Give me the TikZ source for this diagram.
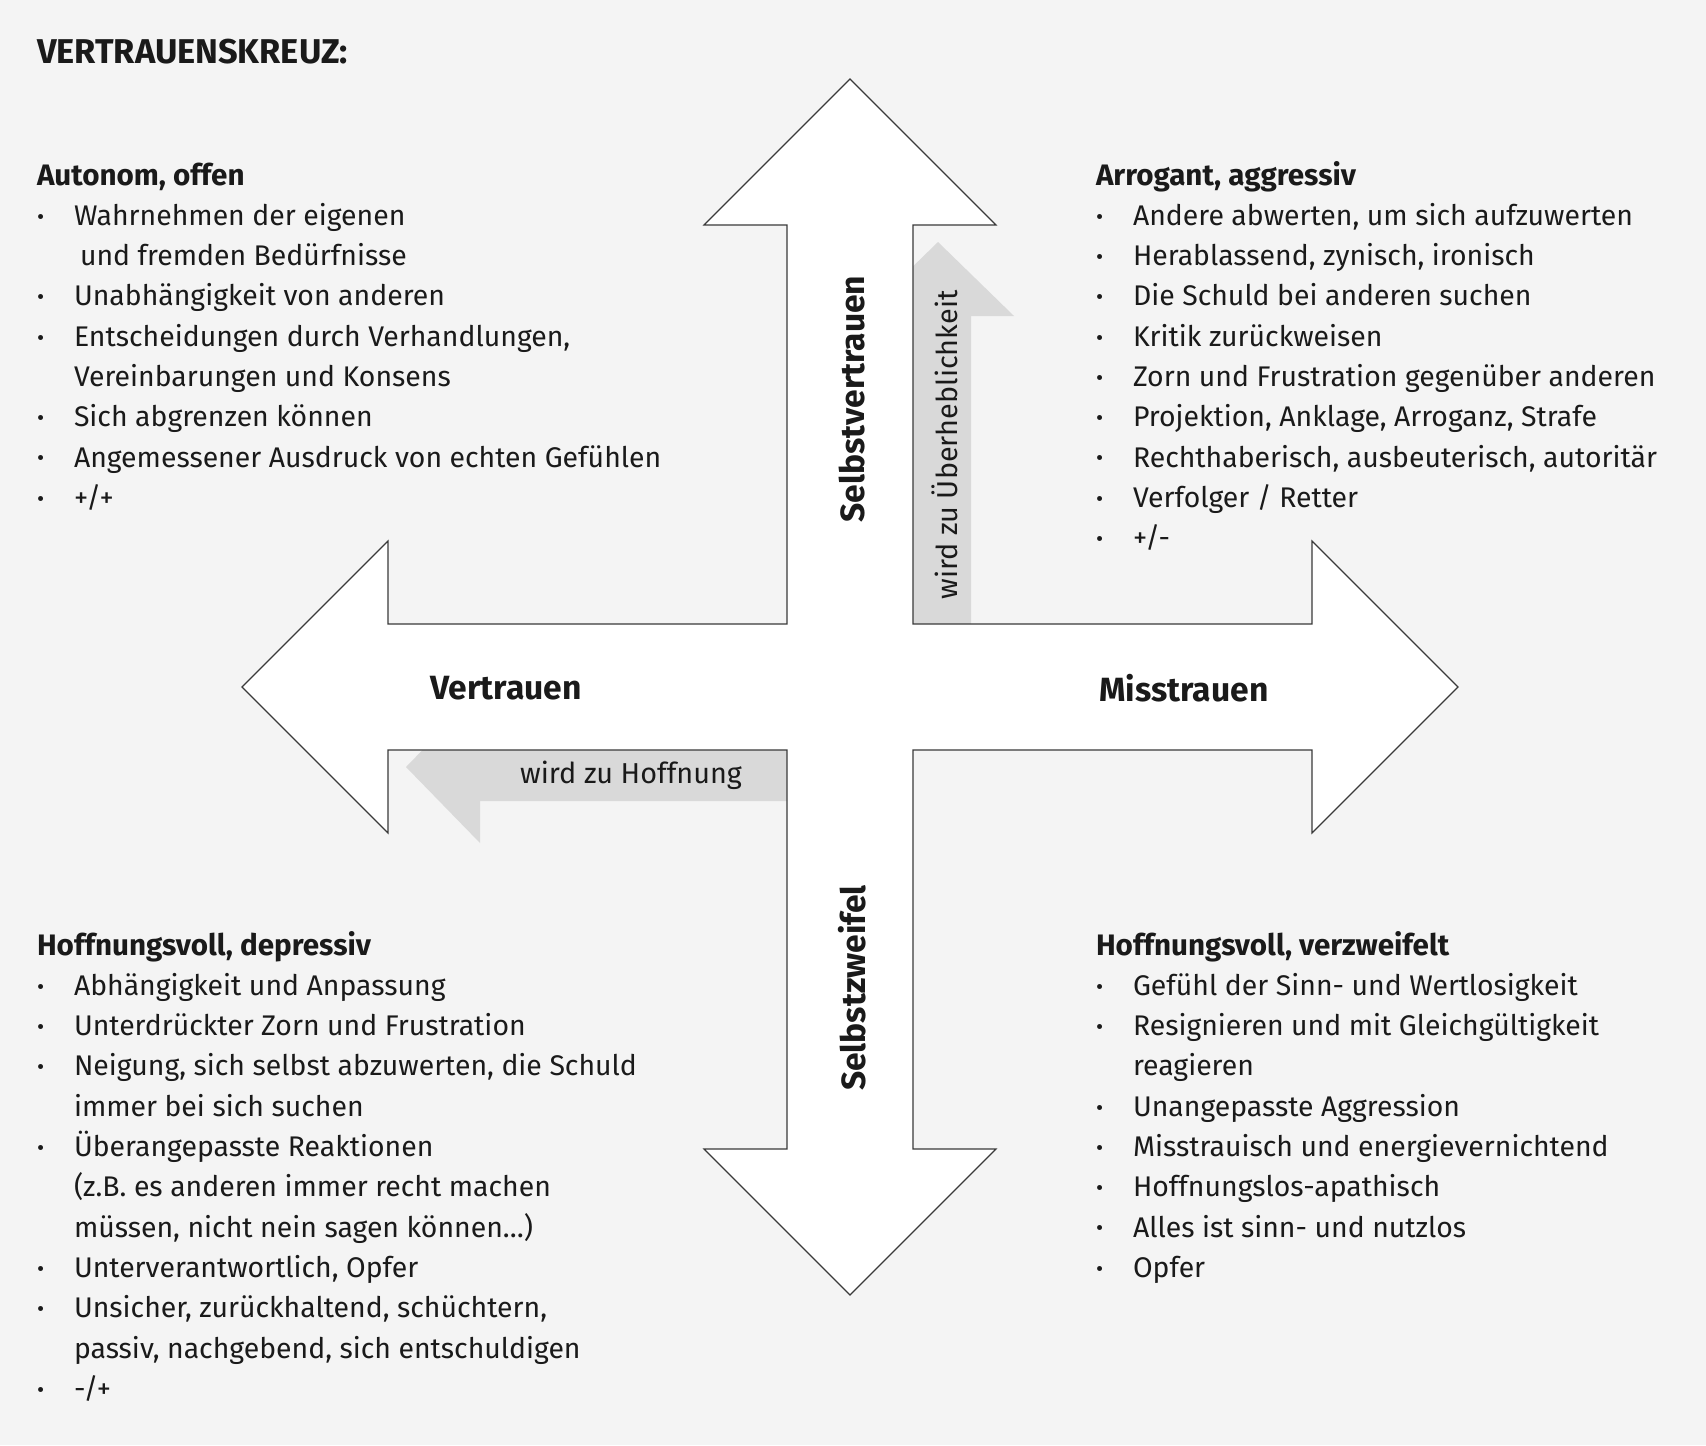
\documentclass[tikz,border=0pt]{standalone}
\usepackage{fontspec}
\setmainfont{Fira Sans}
\definecolor{bg}{HTML}{F4F4F4}
\definecolor{grayarrow}{HTML}{D9D9D9}
\definecolor{ink}{HTML}{1A1A1A}
\definecolor{edge}{HTML}{3A3A3A}
\newcommand{\itm}[1]{\makebox[18.5pt][l]{\fontsize{11pt}{11pt}\selectfont\raisebox{0.6pt}{•}}#1}
\newcommand{\cnt}[1]{\hspace*{18.5pt}#1}
\newcommand{\hd}[1]{{\fontsize{14.8pt}{20.15pt}\selectfont\bfseries #1}}
\begin{document}
\begin{tikzpicture}[x=0.5pt,y=-0.5pt,
  txt/.style={inner sep=0pt, outer sep=0pt, text=ink, font=\fontsize{14.2pt}{20.15pt}\selectfont},
  block/.style={txt, anchor=base west},
  axislabel/.style={txt, anchor=center, font=\fontsize{16.8pt}{20.15pt}\selectfont\bfseries},
  graylabel/.style={txt, anchor=center, font=\fontsize{14.4pt}{20.15pt}\selectfont},
  grayarr/.style={fill=grayarrow, draw=none},
  crossshape/.style={fill=white, draw=edge, line width=0.6pt, line join=miter}]
\fill[bg] (0,0) rectangle (1706,1445);
\useasboundingbox (0,0) rectangle (1706,1445);

% gray arrows (beneath the cross)
\path[grayarr] (905,687) -- (905,316) -- (862,316) -- (938,242) -- (1014,316) -- (971,316) -- (971,687) -- cycle;
\path[grayarr] (850,734) -- (480,734) -- (480,691) -- (406,767) -- (480,843) -- (480,801) -- (850,801) -- cycle;

% the cross of four arrows
\path[crossshape] (850,79) -- (996,225) -- (913,225) -- (913,624) -- (1312,624) -- (1312,541)
  -- (1458,687) -- (1312,833) -- (1312,750) -- (913,750) -- (913,1149) -- (996,1149)
  -- (850,1295) -- (704,1149) -- (787,1149) -- (787,750) -- (388,750) -- (388,833)
  -- (242,687) -- (388,541) -- (388,624) -- (787,624) -- (787,225) -- (704,225) -- cycle;

% axis labels
\node[axislabel, rotate=90] (selbstvertrauen) at (852,399) {Selbstvertrauen};
\node[axislabel, rotate=90] (selbstzweifel) at (852,988) {Selbstzweifel};
\node[axislabel] (vertrauen) at (506,688) {Vertrauen};
\node[axislabel] (misstrauen) at (1184,688) {Misstrauen};
\node[graylabel, rotate=90] (ueber) at (945,445) {wird zu Überheblichkeit};
\node[graylabel] (hoffnung) at (631,775) {wird zu Hoffnung};

% title
\node[block, font=\fontsize{17.2pt}{20.15pt}\selectfont\bfseries] (title) at (37,64) {VERTRAUENSKREUZ:};

% quadrant texts
\node[block] (q1) at (37,185) {\begin{tabular}[t]{@{}l@{}}
\hd{Autonom, offen}\\
\itm{Wahrnehmen der eigenen}\\
\cnt{\hspace*{3pt}und fremden Bedürfnisse}\\
\itm{Unabhängigkeit von anderen}\\
\itm{Entscheidungen durch Verhandlungen,}\\
\cnt{Vereinbarungen und Konsens}\\
\itm{Sich abgrenzen können}\\
\itm{Angemessener Ausdruck von echten Gefühlen}\\
\itm{+/+}
\end{tabular}};

\node[block] (q2) at (1096,185) {\begin{tabular}[t]{@{}l@{}}
\hd{Arrogant, aggressiv}\\
\itm{Andere abwerten, um sich aufzuwerten}\\
\itm{Herablassend, zynisch, ironisch}\\
\itm{Die Schuld bei anderen suchen}\\
\itm{Kritik zurückweisen}\\
\itm{Zorn und Frustration gegenüber anderen}\\
\itm{Projektion, Anklage, Arroganz, Strafe}\\
\itm{Rechthaberisch, ausbeuterisch, autoritär}\\
\itm{Verfolger / Retter}\\
\itm{+/-}
\end{tabular}};

\node[block] (q3) at (37,955) {\begin{tabular}[t]{@{}l@{}}
\hd{Hoffnungsvoll, depressiv}\\
\itm{Abhängigkeit und Anpassung}\\
\itm{Unterdrückter Zorn und Frustration}\\
\itm{Neigung, sich selbst abzuwerten, die Schuld}\\
\cnt{immer bei sich suchen}\\
\itm{Überangepasste Reaktionen}\\
\cnt{(z.B. es anderen immer recht machen}\\
\cnt{müssen, nicht nein sagen können…)}\\
\itm{Unterverantwortlich, Opfer}\\
\itm{Unsicher, zurückhaltend, schüchtern,}\\
\cnt{passiv, nachgebend, sich entschuldigen}\\
\itm{-/+}
\end{tabular}};

\node[block] (q4) at (1096,955) {\begin{tabular}[t]{@{}l@{}}
\hd{Hoffnungsvoll, verzweifelt}\\
\itm{Gefühl der Sinn- und Wertlosigkeit}\\
\itm{Resignieren und mit Gleichgültigkeit}\\
\cnt{reagieren}\\
\itm{Unangepasste Aggression}\\
\itm{Misstrauisch und energievernichtend}\\
\itm{Hoffnungslos-apathisch}\\
\itm{Alles ist sinn- und nutzlos}\\
\itm{Opfer}
\end{tabular}};
\end{tikzpicture}
\end{document}
